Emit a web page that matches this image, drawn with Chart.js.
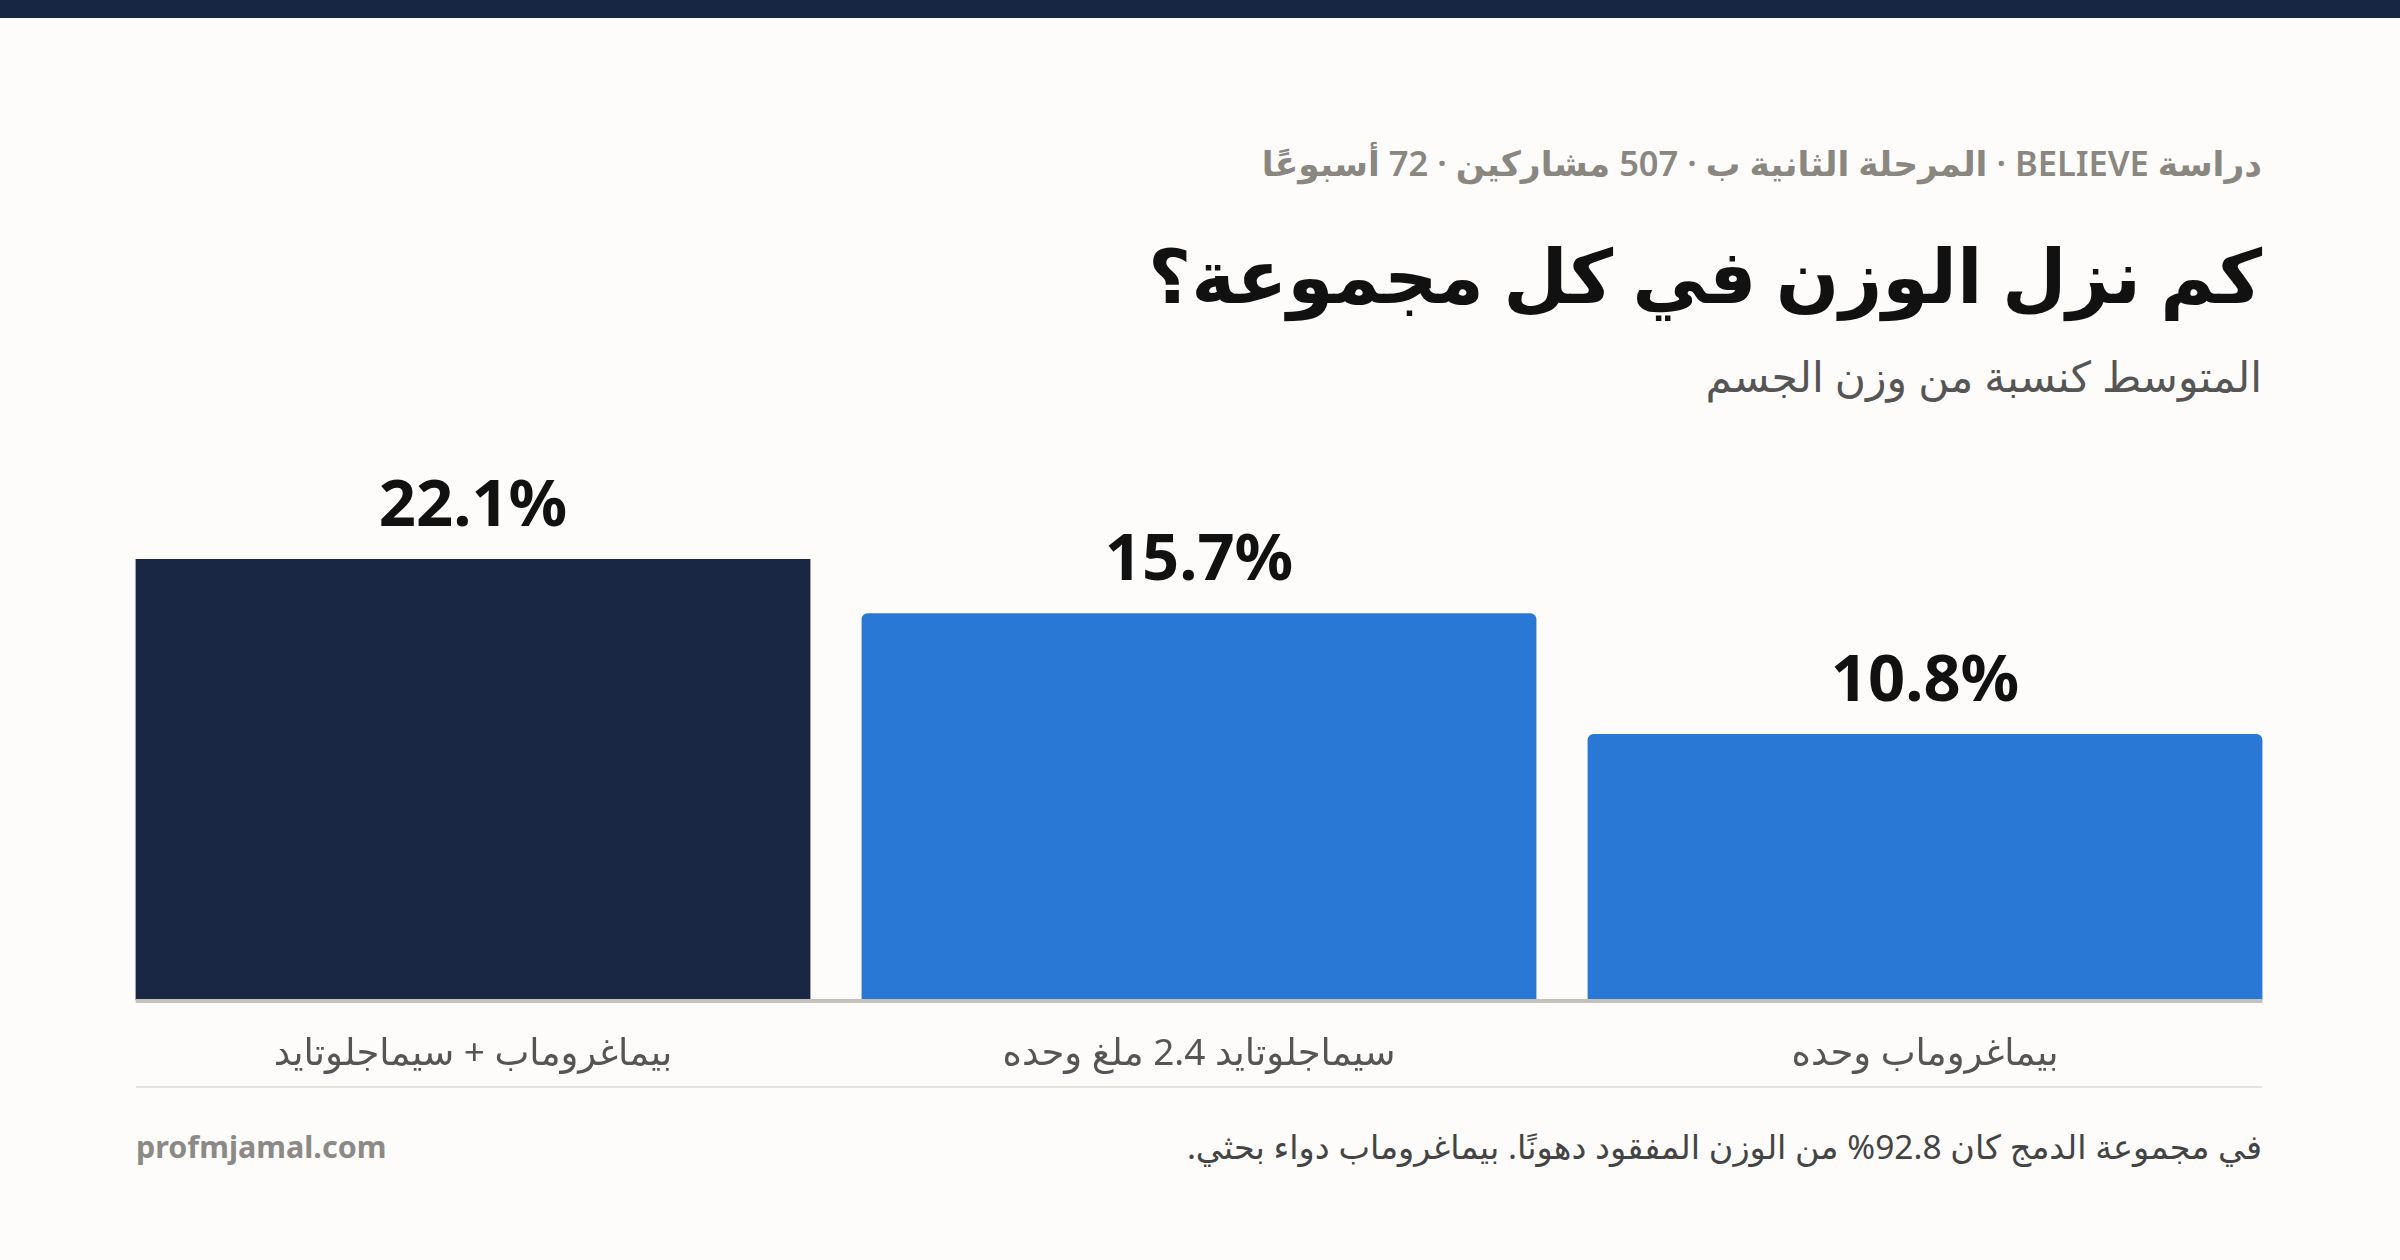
<!DOCTYPE html>
<html lang="ar">
<head>
<meta charset="utf-8">
<script src="https://cdn.jsdelivr.net/npm/chart.js@4.4.1/dist/chart.umd.min.js"></script>
<style>
  html, body { margin: 0; padding: 0; }
  body {
    width: 2400px; height: 1260px; position: relative; overflow: hidden;
    background: #fdfcfa;
    font-family: "Noto Sans", "DejaVu Sans", sans-serif;
  }
  .topbar { position: absolute; left: 0; top: 0; width: 2400px; height: 18px; background: #172642; }
  .txt { position: absolute; white-space: nowrap; }
  .rtl { direction: rtl; right: 138px; text-align: right; }
  #kicker { top: 138px; line-height: 50px; font-size: 34.5px; font-weight: 600; color: #8a8680; }
  #title { top: 222px; line-height: 104px; font-size: 74.5px; font-weight: 700; color: #111111; }
  #sub { top: 346px; line-height: 60px; font-size: 42.5px; color: #555555; }
  #chartBox { position: absolute; left: 110px; top: 440px; width: 2178px; height: 650px; }
  .sep { position: absolute; left: 136px; top: 1086px; width: 2126px; height: 2px; background: #e3e1dc; }
  #site { left: 136px; top: 1121px; line-height: 50px; font-size: 30.5px; font-weight: 700; color: #8b8a86; }
  #note { top: 1121px; line-height: 50px; font-size: 33.5px; color: #444444; }
</style>
</head>
<body>
<div class="topbar"></div>
<div id="kicker" class="txt rtl">دراسة BELIEVE · المرحلة الثانية ب · 507 مشاركين · 72 أسبوعًا</div>
<div id="title" class="txt rtl">كم نزل الوزن في كل مجموعة؟</div>
<div id="sub" class="txt rtl">المتوسط كنسبة من وزن الجسم</div>
<div id="chartBox"><canvas id="lossChart"></canvas></div>
<div class="sep"></div>
<div id="site" class="txt">profmjamal.com</div>
<div id="note" class="txt rtl">في مجموعة الدمج كان 92.8% من الوزن المفقود دهونًا. بيماغروماب دواء بحثي.</div>

<script>
// groups, right to left as read
let groups = ['بيماغروماب وحده', 'سيماجلوتايد 2.4 ملغ وحده', 'بيماغروماب + سيماجلوتايد'];
let lossPct = [10.8, 15.7, 22.1]; // mean % body weight lost
let comboIndex = 2;

// value labels above the bars
let barLabels = {
    id: 'barLabels',
    afterDatasetsDraw(chart) {
        let ctx = chart.ctx;
        let meta = chart.getDatasetMeta(0);
        ctx.save();
        ctx.font = '700 65px "Noto Sans", "DejaVu Sans", sans-serif';
        ctx.fillStyle = '#111111';
        ctx.textAlign = 'center';
        ctx.textBaseline = 'alphabetic';
        for (let i = 0; i < meta.data.length; i++) {
            let bar = meta.data[i];
            let top = Math.max(bar.y, chart.chartArea.top);
            ctx.fillText(lossPct[i].toFixed(1) + '%', bar.x, top - 33);
        }
        ctx.restore();
    }
};

// baseline only under the bars
let baseLine = {
    id: 'baseLine',
    afterDatasetsDraw(chart) {
        let ctx = chart.ctx;
        let bars = chart.getDatasetMeta(0).data;
        let left = Math.min(...bars.map(b => b.x - b.width / 2));
        let right = Math.max(...bars.map(b => b.x + b.width / 2));
        ctx.save();
        ctx.fillStyle = '#c4c1b8';
        ctx.fillRect(left, chart.chartArea.bottom - 1, right - left, 4);
        ctx.restore();
    }
};

let data = {
    labels: groups,
    datasets: [{
        data: lossPct,
        backgroundColor: lossPct.map((v, i) => i === comboIndex ? '#1a2744' : '#2a78d6'),
        borderRadius: { topLeft: 6, topRight: 6 },
        borderSkipped: 'bottom',
        categoryPercentage: 1,
        barPercentage: 0.9295,
        clip: 0
    }]
};

let config = {
    type: 'bar',
    data: data,
    options: {
        responsive: true,
        maintainAspectRatio: false,
        animation: false,
        devicePixelRatio: 1,
        layout: { padding: { top: 119, left: 0, right: 0, bottom: 0 } },
        plugins: { legend: { display: false }, tooltip: { enabled: false } },
        scales: {
            x: {
                reverse: true,
                grid: { display: false, drawTicks: false },
                border: { display: false },
                ticks: {
                    color: '#555555',
                    padding: 32,
                    font: { family: '"Noto Sans", "DejaVu Sans", sans-serif', size: 37 }
                },
                afterFit(scale) { scale.height = 90; }
            },
            y: {
                display: false,
                min: 0,
                max: 17.9
            }
        }
    },
    plugins: [barLabels, baseLine]
};

let lossChart = new Chart(document.getElementById('lossChart'), config);
</script>
</body>
</html>
